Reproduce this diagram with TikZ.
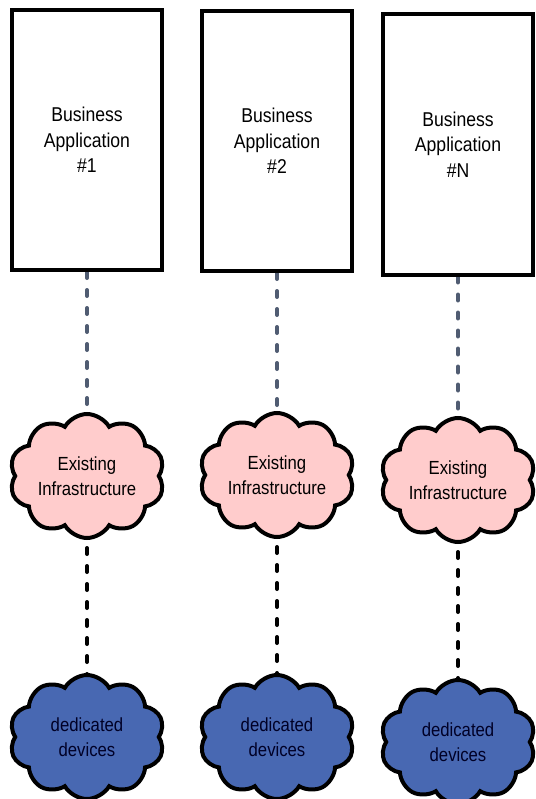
\documentclass[tikz,border=0pt]{standalone}
\usepackage{fontspec}
\setmainfont{Liberation Sans}
\newfontfamily\narrowsans[FakeStretch=0.88]{Liberation Sans}
\usetikzlibrary{shapes.symbols,backgrounds}
\definecolor{linkgray}{RGB}{80,92,114}
\definecolor{infrapink}{RGB}{255,204,204}
\definecolor{deviceblue}{RGB}{72,104,178}
\tikzset{
  appbox/.style={
    rectangle,
    draw=black, line width=4pt,
    fill=white,
    minimum width=150pt,
    minimum height=260pt,
    align=center,
    font=\narrowsans\fontsize{20}{25.5}\selectfont},
  infracloud/.style={
    cloud, cloud puffs=10, cloud puff arc=120,
    draw=black, line width=4pt,
    fill=infrapink,
    minimum width=155pt,
    minimum height=124pt,
    inner xsep=-28pt, inner ysep=-12pt,
    align=center,
    font=\narrowsans\fontsize{19}{25}\selectfont},
  devicecloud/.style={
    infracloud,
    fill=deviceblue,
    text=black!85!blue},
  applink/.style={draw=linkgray, line width=4pt, line cap=round, dash pattern=on 6pt off 12pt},
  devlink/.style={draw=black, line width=4pt, line cap=round, dash pattern=on 6pt off 12pt},
}
\begin{document}
\begin{tikzpicture}[x=1pt,y=1pt]
\useasboundingbox (0,0) rectangle (535,-799);

%Nodes
\node[appbox]      (app1)      at (87,-140)    {Business\\Application\\\#1};
\node[appbox]      (app2)      at (277,-141)   {Business\\Application\\\#2};
\node[appbox]      (appN)      at (458,-144.5) {Business\\Application\\\#N};
\node[infracloud]  (infra1)    at (87,-476)    {Existing\\Infrastructure};
\node[infracloud]  (infra2)    at (277,-475)   {Existing\\Infrastructure};
\node[infracloud]  (infraN)    at (458,-480)   {Existing\\Infrastructure};
\node[devicecloud] (devices1)  at (87,-737)    {dedicated\\devices};
\node[devicecloud] (devices2)  at (277,-737)   {dedicated\\devices};
\node[devicecloud] (devicesN)  at (458,-742)   {dedicated\\devices};

%Lines
\begin{scope}[on background layer]
\draw[applink] (app1.south) -- (infra1.center);
\draw[applink] (app2.south) -- (infra2.center);
\draw[applink] (appN.south) -- (infraN.center);
\draw[devlink] (infra1.center) -- (devices1.center);
\draw[devlink] (infra2.center) -- (devices2.center);
\draw[devlink] (infraN.center) -- (devicesN.center);
\end{scope}

\end{tikzpicture}
\end{document}
